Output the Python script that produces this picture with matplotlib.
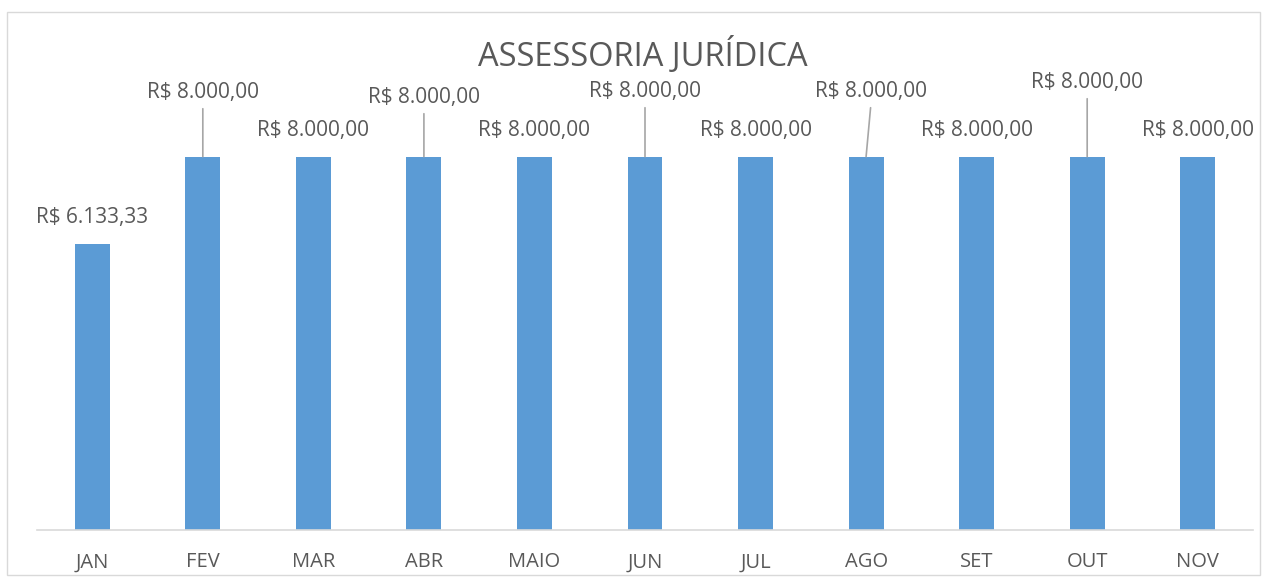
import matplotlib.pyplot as plt
from matplotlib.patches import Rectangle

meses = ['JAN', 'FEV', 'MAR', 'ABR', 'MAIO', 'JUN', 'JUL', 'AGO', 'SET', 'OUT', 'NOV']
valores = [6133.33, 8000, 8000, 8000, 8000, 8000, 8000, 8000, 8000, 8000, 8000]

# label offsets in pixels from the bar top (dx, dy) and whether a leader line is drawn
label_offsets = [(0, 26), (0, 64), (0, 26), (0, 59), (0, 26), (0, 65),
                 (0, 26), (5, 65), (0, 26), (0, 74), (0, 26)]
leaders = [False, True, False, True, False, True, False, True, False, True, False]

plt.rcParams['font.family'] = ['Open Sans', 'DejaVu Sans']
cinza = '#595959'


def brl(v):
    s = '{:,.2f}'.format(v).replace(',', 'X').replace('.', ',').replace('X', '.')
    return 'R$ ' + s


fig = plt.figure(figsize=(12.67, 5.82), dpi=100)
fig.patches.append(Rectangle((7 / 1267, 7 / 582), 1253 / 1267, 563 / 582,
                             transform=fig.transFigure, fill=False,
                             edgecolor='#d9d9d9', linewidth=1))
ax = fig.add_axes([37 / 1267, 52 / 582, 1216 / 1267, 420 / 582])

x = range(len(meses))
ax.bar(x, valores, width=0.315, color='#5b9bd5', zorder=2)
ax.set_xlim(-0.5, len(meses) - 0.5)
ax.set_ylim(0, 9000)

for i, v in enumerate(valores):
    dx, dy = label_offsets[i]
    kw = {}
    if leaders[i]:
        kw['arrowprops'] = dict(arrowstyle='-', color='#a6a6a6', lw=1.2,
                                shrinkA=2, shrinkB=0, relpos=(0.5, 0))
    ax.annotate(brl(v), xy=(i, v), xytext=(dx, dy), textcoords='offset pixels',
                ha='center', va='center', fontsize=15, color=cinza,
                annotation_clip=False, **kw)

ax.set_xticks(list(x))
ax.set_xticklabels(meses, fontsize=14.5, color=cinza)
ax.tick_params(axis='x', length=0, pad=16)
ax.set_yticks([])
for side in ['left', 'right', 'top']:
    ax.spines[side].set_visible(False)
ax.spines['bottom'].set_color('#d9d9d9')
ax.spines['bottom'].set_linewidth(1.2)

fig.text(643 / 1267, 1 - 56 / 582, 'ASSESSORIA JURÍDICA', ha='center', va='center',
         fontsize=23.5, color=cinza)

fig.savefig('out.png', dpi=100)
